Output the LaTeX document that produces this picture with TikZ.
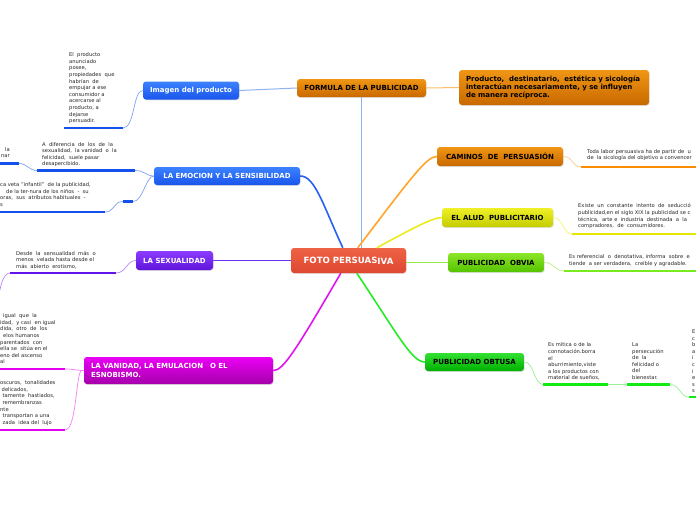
\documentclass[tikz,border=0pt]{standalone}
\usepackage{fontspec}
\setmainfont{DejaVu Sans}
\usetikzlibrary{calc,shadows}
\definecolor{orT}{RGB}{240,150,20}\definecolor{orB}{RGB}{200,105,0}
\definecolor{blT}{RGB}{60,130,255}\definecolor{blB}{RGB}{25,85,235}
\definecolor{puT}{RGB}{140,60,255}\definecolor{puB}{RGB}{95,20,220}
\definecolor{maT}{RGB}{235,0,245}\definecolor{maB}{RGB}{165,0,170}
\definecolor{grT}{RGB}{50,225,50}\definecolor{grB}{RGB}{0,175,0}
\definecolor{ygT}{RGB}{140,230,40}\definecolor{ygB}{RGB}{85,195,0}
\definecolor{yeT}{RGB}{240,240,40}\definecolor{yeB}{RGB}{195,205,0}
\definecolor{rdT}{RGB}{238,98,70}\definecolor{rdB}{RGB}{222,72,48}
\definecolor{lkF}{RGB}{140,180,240}\definecolor{lkP}{RGB}{250,190,110}
\definecolor{lkE}{RGB}{40,95,245}\definecolor{lkC}{RGB}{255,165,40}
\definecolor{lkA}{RGB}{235,235,30}\definecolor{lkO}{RGB}{150,235,70}
\definecolor{lkT}{RGB}{40,235,40}\definecolor{lkV}{RGB}{225,20,240}
\definecolor{lkS}{RGB}{110,50,240}
\definecolor{ulB}{RGB}{20,80,235}\definecolor{ulP}{RGB}{100,20,235}
\definecolor{ulM}{RGB}{230,0,240}\definecolor{ulG}{RGB}{20,235,20}
\definecolor{ulO}{RGB}{250,140,0}\definecolor{ulY}{RGB}{230,230,0}
\definecolor{ulL}{RGB}{120,235,30}
\tikzset{
  box/.style={rounded corners=3pt, inner sep=0pt, align=center,
    font=\bfseries\fontsize{7}{8.4}\selectfont,
    drop shadow={opacity=0.25,shadow xshift=0.6pt,shadow yshift=-0.9pt}},
  txt/.style={inner sep=0pt, anchor=north west, align=left,
    font=\fontsize{5.2}{6.6}\selectfont, text=black!85},
  uline/.style={line width=2.6pt},
  thinlink/.style={line width=0.7pt},
  mainlink/.style={line width=1.6pt},
}
\begin{document}
\begin{tikzpicture}[x=1pt,y=-1pt]
\useasboundingbox (0,0) rectangle (696,520);
\clip (0,0) rectangle (696,520);
\fill[white] (0,0) rectangle (696,520);

% ---------- boxes ----------
\node[box, top color=rdT, bottom color=rdB, text=white, minimum width=115pt, minimum height=25pt,
  font=\bfseries\fontsize{8.6}{10}\selectfont] (c) at (348.5,260.5) {FOTO PERSUAS\raisebox{-1.2pt}{IVA}};
\node[box, top color=orT, bottom color=orB, minimum width=129pt, minimum height=18pt] (f) at (361.5,88) {FORMULA DE LA PUBLICIDAD};
\node[box, top color=orT, bottom color=orB, minimum width=190pt, minimum height=35pt, text width=176pt, align=left,
  font=\bfseries\fontsize{7}{8.2}\selectfont] (p) at (554,87.5) {Producto,\ \ destinatario,\ \ estética y sicología\\interactúan necesariamente, y se influyen\\de manera recíproca.};
\node[box, top color=blT, bottom color=blB, text=white, minimum width=96pt, minimum height=18pt] (i) at (191,90.5) {Imagen del producto};
\node[box, top color=blT, bottom color=blB, text=white, minimum width=146pt, minimum height=18pt] (e) at (227,176) {LA EMOCION Y LA SENSIBILIDAD};
\node[box, top color=puT, bottom color=puB, text=white, minimum width=77pt, minimum height=19pt] (s) at (174.5,260.5) {LA SEXUALIDAD};
\node[box, top color=maT, bottom color=maB, text=white, minimum width=189pt, minimum height=27pt, text width=175pt, align=left] (v) at (178.5,370.5) {LA VANIDAD, LA EMULACION\ \ \ O EL\\ESNOBISMO.};
\node[box, top color=orT, bottom color=orB, minimum width=126pt, minimum height=19pt] (cam) at (500,156.5) {CAMINOS\ \ DE\ \ PERSUASIÓN};
\node[box, top color=yeT, bottom color=yeB, minimum width=111pt, minimum height=19pt] (a) at (497.5,217.5) {EL ALUD\ \ PUBLICITARIO};
\node[box, top color=ygT, bottom color=ygB, minimum width=96pt, minimum height=19pt] (o) at (496,262.5) {PUBLICIDAD\ \ OBVIA};
\node[box, top color=grT, bottom color=grB, minimum width=99pt, minimum height=18pt] (t) at (474.5,362) {PUBLICIDAD OBTUSA};

% ---------- main connectors ----------
\draw[mainlink, lkF] (f.south |- c.north) -- (f.south);
\draw[thinlink, lkF, line width=1pt] (f.west) -- (i.east);
\draw[thinlink, lkP, line width=1pt] (f.east) -- (p.west);
\draw[mainlink, lkE] ($(c.north west)+(52,0)$) .. controls (323,205) and (315,176) .. (e.east);
\draw[mainlink, lkC] ($(c.north west)+(67,0)$) .. controls (410,179) and (427,156) .. (cam.west);
\draw[mainlink, lkA] ($(c.north west)+(86,0)$) .. controls (415,227) and (432,218) .. (a.west);
\draw[mainlink, lkO] (c.east |- o.west) -- (o.west);
\draw[mainlink, lkT] ($(c.south west)+(66,0)$) .. controls (398,335) and (412,362) .. (t.west);
\draw[mainlink, lkV] ($(c.south west)+(50,0)$) .. controls (296,350) and (283,371) .. (v.east);
\draw[mainlink, lkS] (c.west) -- (s.east |- c.west);

% ---------- Imagen del producto ----------
\node[txt] (ti) at (69,52.5) {El\ \ producto\\anunciado\\posee,\\propiedades\ \ que\\habrían\ \ de\\empujar a ese\\consumidor a\\acercarse al\\producto, a\\dejarse\\persuadir.};
\coordinate (ia) at (64,128); \coordinate (ib) at (123,128);
\draw[uline, ulB] (ia) -- (ib);
\draw[thinlink, blB!55] (ib) .. controls +(12,0) and +(-10,0) .. (i.west);

% ---------- Emocion ----------
\node[txt] (te1) at (42,142) {A\ \ diferencia\ \ de\ \ los\ \ de\ \ la\\sexualidad,\ \ la vanidad\ \ o\ \ la\\felicidad,\ \ suele pasar\\desapercibido.};
\coordinate (e1a) at (37,170.5); \coordinate (e1b) at (135,170.5);
\draw[uline, ulB] (e1a) -- (e1b);
\draw[thinlink, blB!55] (e1b) .. controls +(10,0) and +(-8,0) .. (e.west);
\node[txt, anchor=north east, align=right] (te0) at (10,147) {la\\nar};
\coordinate (e0a) at (0,163.5); \coordinate (e0b) at (19,163.5);
\draw[uline, ulB] (e0a) -- (e0b);
\draw[thinlink, blB!55] (e0b) .. controls +(8,0) and +(-8,0) .. (e1a);
\node[txt] (te2) at (0,182.5) {ca veta "infantil"\ \ de la publicidad,\\\hspace*{6pt}de la ter-nura de los niños\ \ -\ \ su\\oras,\ \ sus\ \ atributos habituales\ \ -\\s};
\coordinate (e2a) at (0,212); \coordinate (e2b) at (105,212);
\coordinate (e2c) at (123,201.5); \coordinate (e2d) at (133,201.5);
\draw[uline, ulB] (e2a) -- (e2b);
\draw[uline, ulB] (e2c) -- (e2d);
\draw[thinlink, blB!55] (e2b) .. controls +(10,0) and +(-10,0) .. (e2c);
\draw[thinlink, blB!55] (e2d) .. controls +(10,0) and +(-8,0) .. (e.west);

% ---------- Sexualidad ----------
\node[txt] (ts) at (16,251) {Desde\ \ la\ \ sensualidad\ \ más\ \ o\\menos\ \ velada hasta desde el\\más\ \ abierto\ \ erotismo,};
\coordinate (sa) at (10,273); \coordinate (sb) at (116,273);
\draw[uline, ulP] (sa) -- (sb);
\draw[thinlink, puT!60] (sb) .. controls +(10,0) and +(-9,0) .. (s.west);
\coordinate (sc) at (0,290);
\draw[thinlink, puT!60] (sa) .. controls +(-6,0) and +(1,-6) .. (sc);

% ---------- Vanidad ----------
\node[txt] (tv1) at (0,313.5) {\hspace*{3pt}igual\ \ que\ \ la\\idad,\ \ y casi\ \ en igual\\dida,\ \ otro\ \ de\ \ los\\\hspace*{3pt}elos humanos\\parentados\ \ con\\ella se\ \ sitúa en el\\eno del ascenso\\al};
\coordinate (v1a) at (0,369); \coordinate (v1b) at (65,369);
\draw[uline, ulM] (v1a) -- (v1b);
\draw[thinlink, maT!50] (v1b) .. controls +(9,0) and +(-8,0) .. (v.west);
\node[txt] (tv2) at (0,380.5) {oscuros,\ \ tonalidades\\\hspace*{1.5pt}delicados,\\\hspace*{2.5pt}tamente\ \ hastiados,\\\hspace*{2.5pt}remembranzas\\nte\\\hspace*{2.5pt}transportan a una\\\hspace*{2.5pt}zada\ \ idea del\ \ lujo};
\coordinate (v2a) at (0,430); \coordinate (v2b) at (65,430);
\draw[uline, ulM] (v2a) -- (v2b);
\draw[thinlink, maT!50] (v2b) .. controls +(12,0) and +(-6,0) .. ($(v.west)+(-2,0)$) -- (v.west);

% ---------- Caminos ----------
\node[txt] (tc) at (587,149) {Toda labor persuasiva ha de partir de\ \ u\\de\ \ la sicología del objetivo a convencer};
\coordinate (ca) at (581,167); \coordinate (cb) at (700,167);
\draw[uline, ulO] (ca) -- (cb);
\draw[thinlink, orT!50] (cam.east) .. controls +(10,0) and +(-9,0) .. (ca);

% ---------- Alud ----------
\node[txt] (ta) at (578,203.5) {Existe\ \ un\ \ constante\ \ intento\ \ de\ \ seducció\\publicidad,en el siglo XIX la publicidad se c\\técnica,\ \ arte e\ \ industria\ \ destinada\ \ a\ \ la\\compradores,\ \ de\ \ consumidores.};
\coordinate (aa) at (572,234); \coordinate (ab) at (700,234);
\draw[uline, ulY] (aa) -- (ab);
\draw[thinlink, yeT!70] (a.east) .. controls +(10,0) and +(-9,0) .. (aa);

% ---------- Obvia ----------
\node[txt] (to) at (569,254.5) {Es referencial\ \ o\ \ denotativa,\ informa\ \ sobre\ \ e\\tiende\ \ a ser verdadera,\ \ creíble y agradable.};
\coordinate (oa) at (564,271); \coordinate (ob) at (700,271);
\draw[uline, ulL] (oa) -- (ob);
\draw[thinlink, ygT!60] (o.east) .. controls +(10,0) and +(-9,0) .. (oa);

% ---------- Obtusa ----------
\node[txt] (tt1) at (548,342.5) {Es mítica o de la\\connotación.borra\\el\\aburrimiento,viste\\a los productos con\\material de sueños,};
\coordinate (t1a) at (543,384.5); \coordinate (t1b) at (608,384.5);
\draw[uline, ulG] (t1a) -- (t1b);
\draw[thinlink, grT!50] (t.east) .. controls +(10,0) and +(-9,0) .. (t1a);
\node[txt] (tt2) at (632,342.5) {La\\persecución\\de\ \ la\\felicidad o\\del\\bienestar.};
\coordinate (t2a) at (627,384.5); \coordinate (t2b) at (670,384.5);
\draw[uline, ulG] (t2a) -- (t2b);
\draw[thinlink, grT!50] (t1b) -- (t2a);
\node[txt] (tt3) at (692,329.5) {E\\c\\b\\a\\i\\c\\i\\e\\s\\s};
\coordinate (t3a) at (689,397); \coordinate (t3b) at (700,397);
\draw[uline, ulG] (t3a) -- (t3b);
\draw[thinlink, grT!50] (t2b) .. controls +(10,0) and +(-9,0) .. (t3a);
\end{tikzpicture}
\end{document}
